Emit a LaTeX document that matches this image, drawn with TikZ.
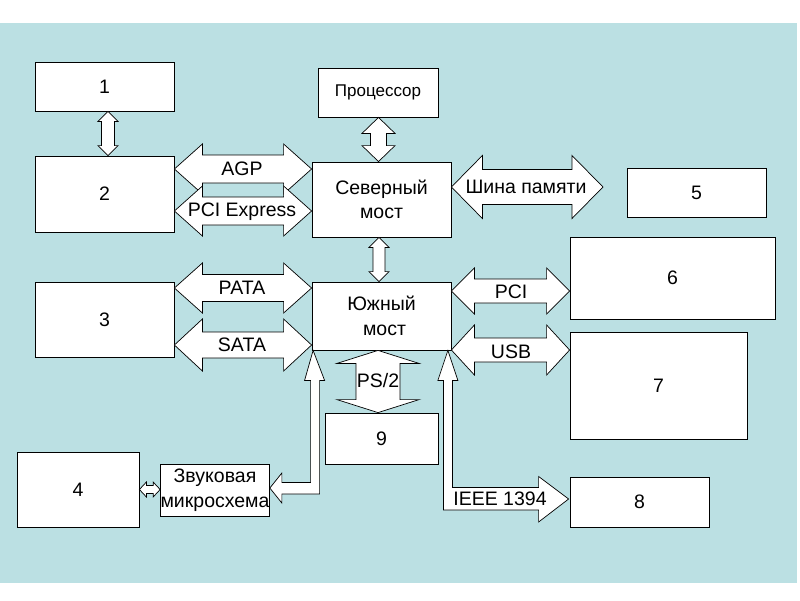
\documentclass[tikz,border=0pt]{standalone}
\usepackage{fontspec}
\setmainfont{Liberation Sans}
\usetikzlibrary{calc}
\definecolor{bgblue}{RGB}{187,224,227}
\tikzset{
  box/.style={draw=black, fill=white, line width=0.8pt, inner sep=0pt, align=center,
    font=\fontsize{19.5}{24.5}\selectfont},
  barrow/.style={draw=black, fill=white, line width=0.7pt, line join=miter},
  lbl/.style={inner sep=0pt, font=\fontsize{19.5}{22}\selectfont}
}
% horizontal double block arrow: #1 left point, #2 right point, #3 y centre (px), #4 half shaft, #5 half head, #6 head length
\newcommand\hdbl[6]{%
\draw[barrow] let \p1=(#1), \p2=(#2) in
 (\x1,{-(#3)*1pt}) -- ({\x1+(#6)*1pt},{-(#3-#5)*1pt}) -- ({\x1+(#6)*1pt},{-(#3-#4)*1pt})
 -- ({\x2-(#6)*1pt},{-(#3-#4)*1pt}) -- ({\x2-(#6)*1pt},{-(#3-#5)*1pt}) -- (\x2,{-(#3)*1pt})
 -- ({\x2-(#6)*1pt},{-(#3+#5)*1pt}) -- ({\x2-(#6)*1pt},{-(#3+#4)*1pt})
 -- ({\x1+(#6)*1pt},{-(#3+#4)*1pt}) -- ({\x1+(#6)*1pt},{-(#3+#5)*1pt}) -- cycle;}
% vertical double block arrow: #1 top point, #2 bottom point, #3 x centre (px), #4 half shaft, #5 half head, #6 head length
\newcommand\vdbl[6]{%
\draw[barrow] let \p1=(#1), \p2=(#2) in
 ({(#3)*1pt},\y1) -- ({(#3+#5)*1pt},{\y1-(#6)*1pt}) -- ({(#3+#4)*1pt},{\y1-(#6)*1pt})
 -- ({(#3+#4)*1pt},{\y2+(#6)*1pt}) -- ({(#3+#5)*1pt},{\y2+(#6)*1pt}) -- ({(#3)*1pt},\y2)
 -- ({(#3-#5)*1pt},{\y2+(#6)*1pt}) -- ({(#3-#4)*1pt},{\y2+(#6)*1pt})
 -- ({(#3-#4)*1pt},{\y1-(#6)*1pt}) -- ({(#3-#5)*1pt},{\y1-(#6)*1pt}) -- cycle;}
\begin{document}
\begin{tikzpicture}[x=1pt,y=-1pt]
\useasboundingbox (0,0) rectangle (800,600);
\fill[white] (0,0) rectangle (800,600);
\fill[bgblue] (0,23) rectangle (797,583);

% boxes
\node[box, minimum width=139pt, minimum height=49pt] (b1) at (104.5,86.5) {1};
\node[box, minimum width=139pt, minimum height=76pt] (b2) at (104.5,194) {2};
\node[box, minimum width=139pt, minimum height=75pt] (b3) at (104.5,319.5) {3};
\node[box, minimum width=122pt, minimum height=75pt] (b4) at (78,489.5) {4};
\node[box, minimum width=106pt, minimum height=52pt] (snd) at (215,490) {Звуковая\\микросхема};
\node[box, minimum width=120pt, minimum height=49pt, font=\fontsize{17}{22}\selectfont] (cpu) at (378,92.5) {Процессор};
\node[box, minimum width=139pt, minimum height=75pt] (nb) at (381.5,199.5) {Северный\\мост};
\node[box, minimum width=139pt, minimum height=68pt] (sb) at (381.5,316) {Южный\\\hspace*{6pt}мост};
\node[box, minimum width=113pt, minimum height=51pt] (b9) at (381.5,438.5) {9};
\node[box, minimum width=139pt, minimum height=49pt] (b5) at (696.5,192.5) {5};
\node[box, minimum width=205pt, minimum height=82pt] (b6) at (672.5,278) {6};
\node[box, minimum width=177pt, minimum height=107pt] (b7) at (658.5,385.5) {7};
\node[box, minimum width=139pt, minimum height=50pt] (b8) at (639.5,502) {8};
\coordinate (memend) at (603,187);

% block arrows
\vdbl{b1.south}{b2.north}{108}{6.5}{10}{10}
\vdbl{cpu.south}{nb.north}{378.5}{8}{16.5}{16}
\vdbl{nb.south}{sb.north}{379}{6}{10}{10}
\vdbl{sb.south}{b9.north}{378}{22}{41}{13}
\hdbl{b2.east}{nb.west}{169}{14}{25}{28}
\hdbl{b2.east}{nb.west}{211}{14}{25}{28}
\hdbl{b3.east}{sb.west}{288}{13.5}{25}{28}
\hdbl{b3.east}{sb.west}{345}{13}{26}{28}
\hdbl{nb.east}{memend}{187}{17.5}{31.5}{31}
\hdbl{sb.east}{b6.west}{291}{12}{23}{23}
\hdbl{sb.east}{b7.west}{350}{12}{25}{23}
\hdbl{b4.east}{snd.west}{489.5}{4}{7.5}{7}

% sound chip <-> south bridge (bent arrow)
\draw[barrow] let \p1=(snd.east), \p2=(sb.south west) in
 (\x1,{\y1+2pt}) -- ({\x1+12pt},{\y1+17pt}) -- ({\x1+12pt},{\y1+7.5pt})
 -- ({\x2-1pt},{\y1+7.5pt}) -- ({\x2-1pt},{\y2-30pt}) -- ({\x2-7pt},{\y2-30pt})
 -- ({\x2+1.5pt},\y2) -- ({\x2+13pt},{\y2-30pt}) -- ({\x2+8pt},{\y2-30pt})
 -- ({\x2+8pt},{\y1-4pt}) -- ({\x1+12pt},{\y1-4pt}) -- ({\x1+12pt},{\y1-13pt}) -- cycle;

% IEEE 1394 bent arrow
\draw[barrow] let \p1=(sb.south east), \p2=(b8.west) in
 ({\x1-3.5pt},\y1) -- ({\x1+6.5pt},{\y1-30pt}) -- ({\x1+1pt},{\y1-30pt})
 -- ({\x1+1pt},{\y2+14.5pt}) -- ({\x2-31pt},{\y2+14.5pt}) -- ({\x2-31pt},{\y2+25.5pt})
 -- ({\x2-1pt},{\y2+3pt}) -- ({\x2-31pt},{\y2-20pt}) -- ({\x2-31pt},{\y2-8pt})
 -- ({\x1-8pt},{\y2-8pt}) -- ({\x1-8pt},{\y1-30pt}) -- ({\x1-13.5pt},{\y1-30pt}) -- cycle;

% arrow labels
\node[lbl] (tagp) at (242,169) {AGP};
\node[lbl] (tpcie) at (242,212) {PCI Express};
\node[lbl] (tpata) at (242,288) {PATA};
\node[lbl] (tsata) at (242,345) {SATA};
\node[lbl] (tmem) at (526,187) {Шина памяти};
\node[lbl] (tpci) at (511,292) {PCI};
\node[lbl] (tusb) at (511,352) {USB};
\node[lbl] (tps) at (378,381) {PS/2};
\node[lbl] (tieee) at (500,499) {IEEE 1394};
\end{tikzpicture}
\end{document}
